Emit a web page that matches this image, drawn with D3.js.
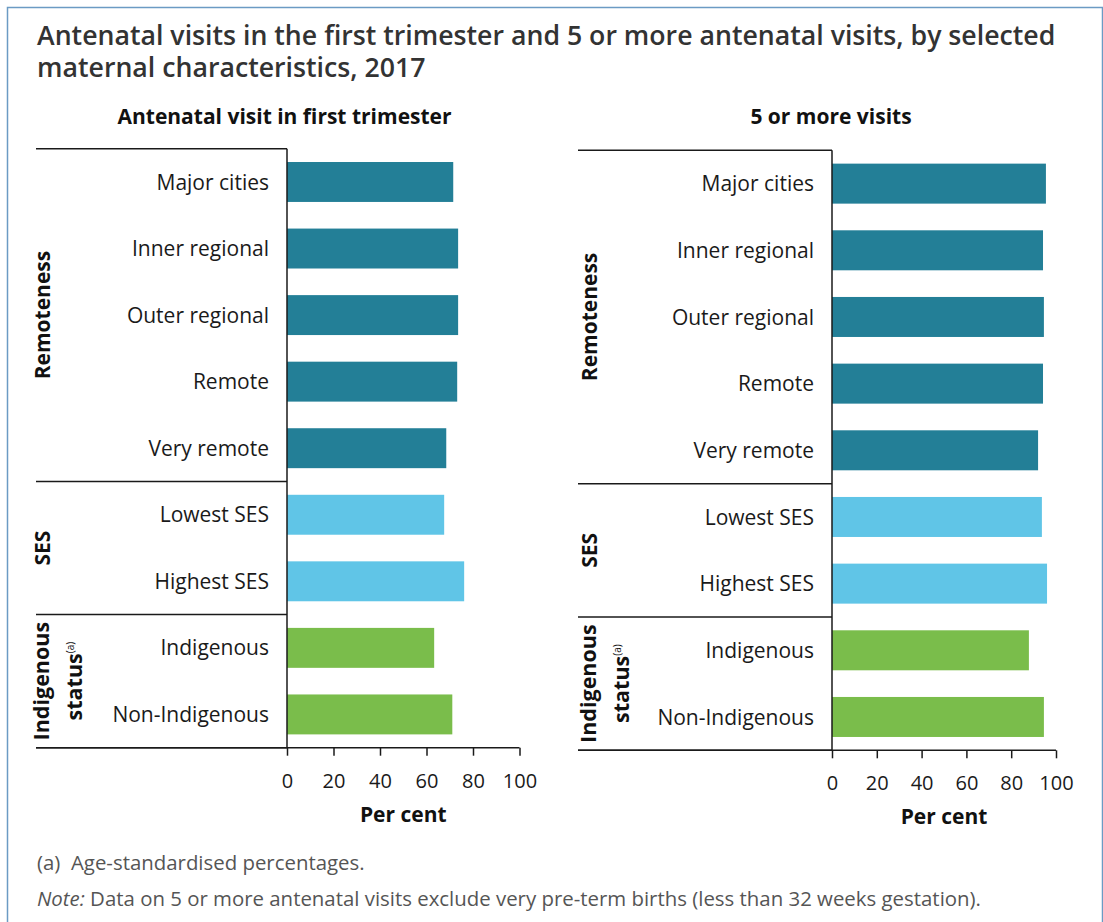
<!DOCTYPE html>
<html>
<head>
<meta charset="utf-8">
<script src="https://cdn.jsdelivr.net/npm/d3@7"></script>
<style>
  body { margin: 0; background: #fff; }
  svg { display: block; font-family: "Open Sans", "Noto Sans", sans-serif; }
</style>
</head>
<body>
<svg width="1103" height="922"></svg>
<script>
// data
var categories = ["Major cities", "Inner regional", "Outer regional", "Remote", "Very remote",
                  "Lowest SES", "Highest SES", "Indigenous", "Non-Indigenous"];
var groupNames = ["Remoteness", "SES", "Indigenous status"];
var groupSizes = [5, 2, 2];
var groupColors = ["#237f97", "#60c5e7", "#7abd4b"];
var firstTrimester = [71.5, 73.6, 73.6, 73.2, 68.5, 67.6, 76.2, 63.3, 71.1];
var fiveOrMore = [95.5, 94.2, 94.6, 94.2, 92.0, 93.7, 96.0, 87.9, 94.6];
var xTicks = [0, 20, 40, 60, 80, 100];

var svg = d3.select("svg");

// outer frame
svg.append("rect")
    .attr("x", 7.5).attr("y", 7.5)
    .attr("width", 1095).attr("height", 940)
    .attr("fill", "none")
    .attr("stroke", "#6b9bc4")
    .attr("stroke-width", 1.5);

// title
var title = svg.append("text")
    .attr("x", 37).attr("y", 45)
    .style("font-size", "26.7px")
    .style("font-weight", 600)
    .style("fill", "#333");
title.append("tspan").attr("x", 37).text("Antenatal visits in the first trimester and 5 or more antenatal visits, by selected");
title.append("tspan").attr("x", 37).attr("dy", 32).text("maternal characteristics, 2017");

// which group each category belongs to
var groupOf = [];
groupSizes.forEach(function (n, gi) { for (var i = 0; i < n; i++) groupOf.push(gi); });

var panels = [
    { title: "Antenatal visit in first trimester", values: firstTrimester, titleX: 284.5,
      frameLeft: 36, x0: 287, x1: 519.5, top: 148.7, bottom: 747.7, labelX: 50 },
    { title: "5 or more visits", values: fiveOrMore, titleX: 831,
      frameLeft: 578, x0: 832, x1: 1056, top: 150.3, bottom: 750.3, labelX: 597 }
];

panels.forEach(function (p) {
    var g = svg.append("g");

    var x = d3.scaleLinear().domain([0, 100]).range([p.x0, p.x1]);
    var y = d3.scaleBand().domain(categories).range([p.top, p.bottom])
        .paddingInner(0.4).paddingOuter(0.2);

    g.append("text")
        .attr("x", p.titleX).attr("y", 124)
        .attr("text-anchor", "middle")
        .style("font-size", "21px")
        .style("font-weight", 700)
        .style("fill", "#111")
        .text(p.title);

    // bars
    g.selectAll("rect.bar")
        .data(p.values)
        .enter().append("rect")
        .attr("class", "bar")
        .attr("x", x(0))
        .attr("y", function (d, i) { return y(categories[i]); })
        .attr("width", function (d) { return x(d) - x(0); })
        .attr("height", y.bandwidth())
        .attr("fill", function (d, i) { return groupColors[groupOf[i]]; });

    // category labels
    g.selectAll("text.cat")
        .data(categories)
        .enter().append("text")
        .attr("class", "cat")
        .attr("x", p.x0 - 18)
        .attr("y", function (d) { return y(d) + y.bandwidth() / 2; })
        .attr("dy", "0.36em")
        .attr("text-anchor", "end")
        .style("font-size", "21px")
        .style("fill", "#1a1a1a")
        .text(function (d) { return d; });

    // group separators
    var step = y.step();
    var start = 0;
    var bounds = [p.top];
    groupSizes.forEach(function (n) { start += n; bounds.push(p.top + start * step); });

    g.selectAll("line.sep")
        .data(bounds)
        .enter().append("line")
        .attr("class", "sep")
        .attr("x1", p.frameLeft).attr("x2", p.x0)
        .attr("y1", function (d) { return d; })
        .attr("y2", function (d) { return d; })
        .attr("stroke", "#1a1a1a")
        .attr("stroke-width", 1.5);

    // vertical axis line
    g.append("line")
        .attr("x1", p.x0).attr("x2", p.x0)
        .attr("y1", p.top).attr("y2", p.bottom)
        .attr("stroke", "#1a1a1a")
        .attr("stroke-width", 1.5);

    // group labels (rotated)
    groupNames.forEach(function (name, gi) {
        var cy = (bounds[gi] + bounds[gi + 1]) / 2;
        if (gi < 2) {
            g.append("text")
                .attr("transform", "translate(" + p.labelX + "," + cy + ") rotate(-90)")
                .attr("text-anchor", "middle")
                .style("font-size", "21px")
                .style("font-weight", 700)
                .style("fill", "#111")
                .text(name);
        } else {
            g.append("text")
                .attr("transform", "translate(" + (p.labelX - 1) + "," + cy + ") rotate(-90)")
                .attr("text-anchor", "middle")
                .style("font-size", "21.5px")
                .style("font-weight", 700)
                .style("fill", "#111")
                .text("Indigenous");
            var t2 = g.append("text")
                .attr("transform", "translate(" + (p.labelX + 32) + "," + cy + ") rotate(-90)")
                .attr("text-anchor", "middle")
                .style("font-size", "21.5px")
                .style("font-weight", 700)
                .style("fill", "#111");
            t2.append("tspan").text("status");
            t2.append("tspan")
                .attr("dy", -8)
                .style("font-size", "10px")
                .style("font-weight", 400)
                .text("(a)");
        }
    });

    // x axis
    var axis = g.append("g")
        .attr("transform", "translate(0," + p.bottom + ")")
        .call(d3.axisBottom(x).tickValues(xTicks).tickSize(8).tickSizeOuter(0).tickPadding(18));
    axis.select(".domain").remove();
    axis.append("line")
        .attr("x1", p.frameLeft).attr("x2", p.x1)
        .attr("stroke", "#1a1a1a")
        .attr("stroke-width", 1.5);
    axis.selectAll(".tick line").attr("stroke", "#1a1a1a").attr("stroke-width", 1.5);
    axis.selectAll(".tick text")
        .style("font-size", "20px")
        .style("font-family", "'Open Sans', sans-serif")
        .style("fill", "#1a1a1a");

    g.append("text")
        .attr("x", (p.x0 + p.x1) / 2).attr("y", p.bottom + 74)
        .attr("text-anchor", "middle")
        .style("font-size", "21px")
        .style("font-weight", 700)
        .style("fill", "#111")
        .text("Per cent");
});

// footnotes
var notes = svg.append("g").style("font-size", "20.4px").style("fill", "#555");
notes.append("text").attr("x", 37).attr("y", 870)
    .text("(a)\u00a0\u00a0Age-standardised percentages.");
var n2 = notes.append("text").attr("x", 37).attr("y", 906);
n2.append("tspan").style("font-style", "italic").text("Note:");
n2.append("tspan").text(" Data on 5 or more antenatal visits exclude very pre-term births (less than 32 weeks gestation).");
</script>
</body>
</html>
